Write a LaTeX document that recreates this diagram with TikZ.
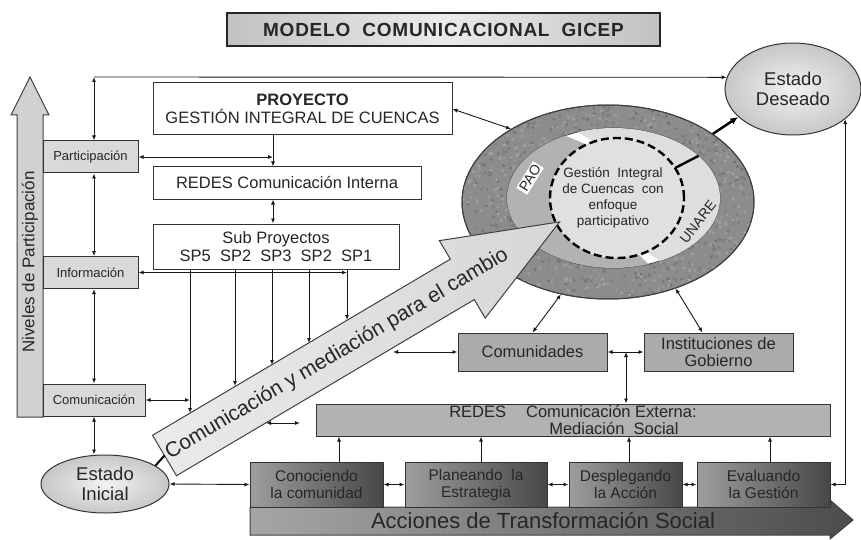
\documentclass[tikz,border=0pt]{standalone}
\usepackage{fontspec}
\setmainfont{Liberation Sans}
\usetikzlibrary{arrows.meta,shapes.geometric,calc}

\begin{document}
\begin{tikzpicture}[x=1pt, y=-1pt, >={Latex[length=5pt,width=4pt]},
	every node/.style={text=black!85, inner sep=0pt, align=center},
	txtG/.style={font=\fontsize{16.5}{17.5}\selectfont},
	txtM/.style={font=\fontsize{15.5}{17}\selectfont},
	txtP/.style={font=\fontsize{13}{15}\selectfont},
	caja/.style={draw=black!80, line width=1pt, fill=white, txtG},
	nivel/.style={draw=black!80, line width=1pt, fill=black!15, txtP, minimum height=32},
	gris/.style={draw=black!80, line width=1pt, fill=black!33, txtG, minimum width=149, minimum height=38},
	accion/.style={draw=black!80, line width=1pt, left color=black!38, right color=black!72, txtM, minimum height=45},
	estado/.style={ellipse, draw=black!80, line width=1pt, inner color=black!5, outer color=black!22, font=\fontsize{18.5}{20}\selectfont},
	con/.style={line width=0.9pt, black!90},
	flecha/.style={draw=black!75, line width=1pt}]
	\useasboundingbox (0,0) rectangle (861,540);

	\node[draw=black!85, line width=1.2pt, left color=black!24, right color=black!24, middle color=black!8, minimum width=433, minimum height=33, font={\bfseries\fontsize{19}{21}\selectfont\addfontfeature{LetterSpace=4}}] (titulo) at (443.5,29.5) {MODELO\ \ COMUNICACIONAL\ \ GICEP};

	\draw[flecha, fill=black!18] (17,417) -- (17,115) -- (11,115) -- (30,77) -- (49,115) -- (43,115) -- (43,417) -- cycle;
	\node[rotate=90, font=\fontsize{17}{19}\selectfont] (niveles) at (30,262) {Niveles de Participación};
	\draw[flecha, left color=black!35, right color=black!70] (250,507) -- (830,507) -- (830,500) -- (853,520) -- (830,539) -- (830,535) -- (250,535) -- cycle;
	\node[font=\fontsize{22}{24}\selectfont] (acciones) at (543,521) {Acciones de Transformación Social};

	\node[ellipse, draw=black!75, line width=1pt, fill=black!45, minimum width=292, minimum height=194] (ring) at (608,202) {};
	\begin{scope}
		\clip (608,202) ellipse [x radius=146, y radius=97];
		\pgfmathsetseed{7}
		\foreach \i in {1,...,2200}{
			\pgfmathsetmacro{\px}{608+146*rand}
			\pgfmathsetmacro{\py}{202+97*rand}
			\pgfmathsetmacro{\g}{int(35+22*rnd)}
			\fill[black!\g] (\px,\py) circle (1.6);
		}
	\end{scope}
	\draw[black!75, line width=1pt] (608,202) ellipse [x radius=146, y radius=97];
	\begin{scope}[shift={(613.5,198)}, yscale=-1]
		\draw[black!75, fill=white, line width=0.8pt] (0,0) ellipse [x radius=106.5, y radius=70];
		\fill[black!30] (117:106.5 and 70) arc[start angle=117, end angle=289, x radius=106.5, y radius=70] -- ($(3.5,0)+(289:67 and 60)$) arc[start angle=289, end angle=117, x radius=67, y radius=60] -- cycle;
		\fill[black!13] (296:106.5 and 70) arc[start angle=296, end angle=470, x radius=106.5, y radius=70] -- ($(3.5,0)+(470:67 and 60)$) arc[start angle=470, end angle=296, x radius=67, y radius=60] -- cycle;
		\draw[black, line width=2.4pt, dash pattern=on 8pt off 4pt, fill=black!12] (3.5,0) ellipse [x radius=67, y radius=60];
		\draw[black, line width=2.4pt] ($(3.5,0)+(30:67 and 60)$) -- (37:106.5 and 70);
	\end{scope}
	\node[font=\fontsize{13.5}{16}\selectfont] (nucleo) at (613,198) {Gestión\ \ Integral\\de Cuencas\ \ con\\enfoque\\participativo};
	\node[fill=white, rotate=58, inner sep=1.5pt, font=\fontsize{14}{16}\selectfont] (pao) at (530,178) {PAO};
	\node[rotate=52, font=\fontsize{14}{16}\selectfont] (unare) at (698,222) {UNARE};

	\coordinate (cola) at (164.5,455.5);
	\begin{scope}[shift={(cola)}, rotate=30.6]
		\draw[flecha, left color=black!8, right color=black!16] (0,-23.5) -- (346,-23.5) -- (346,-45) -- (459,0) -- (346,45) -- (346,23.5) -- (0,23.5) -- cycle;
	\end{scope}
	\node[rotate=30.6, font=\fontsize{21}{23}\selectfont] (cambio) at (337,354) {Comunicación y mediación para el cambio};

	\node[nivel, minimum width=95] (part) at (90.5,157) {Participación};
	\node[nivel, minimum width=95] (inf) at (90.5,272.5) {Información};
	\node[nivel, minimum width=102] (com) at (94,400) {Comunicación};
	\node[estado, minimum width=128, minimum height=58] (inicial) at (105,484) {Estado\\Inicial};
	\node[estado, minimum width=136, minimum height=92] (deseado) at (793,89) {Estado\\Deseado};

	\node[caja, minimum width=299, minimum height=52] (proy) at (302.5,109) {\textbf{PROYECTO}\\GESTIÓN INTEGRAL DE CUENCAS};
	\node[caja, minimum width=268, minimum height=32] (redint) at (287,183) {REDES Comunicación Interna};
	\node[caja, minimum width=246, minimum height=45] (subp) at (276,246.5) {Sub Proyectos\\SP5\ \ SP2\ \ SP3\ \ SP2\ \ SP1};

	\node[gris] (comun) at (532.5,352) {Comunidades};
	\node[gris] (inst) at (718.5,352) {Instituciones de\\Gobierno};
	\node[draw=black!80, line width=1pt, fill=black!30, txtG, minimum width=514, minimum height=32, align=left] (redext) at (573,420) {REDES\hspace{20pt}Comunicación Externa:\\\hspace*{100pt}Mediación\ \ Social};

	\node[accion, minimum width=133] (conoc) at (316.5,484.5) {Conociendo\\la comunidad};
	\node[accion, minimum width=142] (plan) at (476,484.5) {Planeando\ \ la\\Estrategia};
	\node[accion, minimum width=113] (despl) at (625.5,484.5) {Desplegando\\la Acción};
	\node[accion, minimum width=133] (evalu) at (763.5,484.5) {Evaluando\\la Gestión};

	\coordinate (spine) at (94,77);
	\coordinate (pv) at (273,109);
	\draw[con,->] (spine) -- (deseado.170);
	\draw[con,<->] (spine) -- (spine |- part.north);
	\foreach \a/\b in {part/inf, inf/com, com/inicial} \draw[con,<->] (spine |- \a.south) -- (spine |- \b.north);
	\draw[con,->] (pv |- proy.south) -- (pv |- redint.north);
	\draw[con,<->] (pv |- redint.south) -- (pv |- subp.north);
	\draw[con,<->] (part.east) -- (part.east -| pv);
	\draw[con,<->] (proy.east) -- (ring.143);
	\draw[->, line width=2.5pt, >={Latex[length=8pt,width=7pt]}] (ring.33) -- (deseado.207);

	\foreach \n/\x/\y in {a/190/413, b/235/386, c/272/365, d/309/343, e/347/320}{
		\coordinate (sp\n) at (\x,\y);
		\draw[con,->] (sp\n |- subp.south) -- (sp\n);
	}
	\draw[con,<->] (inf.east) -- (inf.east -| spe);
	\draw[con,<->] (com.east) -- (com.east -| spa);

	\coordinate (bordeA) at (393,352);
	\coordinate (bordeB) at (266,423);
	\coordinate (bordeC) at (300,423);
	\draw[con,<->] (bordeA) -- (comun.west);
	\draw[con,<->] (bordeB) -- (bordeC);
	\draw[con,<->] (comun.north) -- (ring.243);
	\draw[con,<->] ([xshift=-16]inst.north) -- (ring.308);
	\draw[con,<->] (comun.east) -- (inst.west);
	\coordinate (cruce) at (626,352);
	\draw[con,<->] (cruce) -- (cruce |- redext.north);
	\draw[line width=2pt] (inicial.20) -- (cola);

	\foreach \b/\d in {conoc/22.5, plan/5, despl/3.5, evalu/6.5} \draw[con,->] ([xshift=\d]\b.north) -- ([xshift=\d]\b.north |- redext.south);
	\foreach \a/\b in {inicial/conoc, conoc/plan, plan/despl, despl/evalu} \draw[con,<->] (\a.east) -- (\b.west);
	\draw[con,<->] (evalu.east) -- (evalu.east -| deseado.-30) -- (deseado.-30);
\end{tikzpicture}
\end{document}
